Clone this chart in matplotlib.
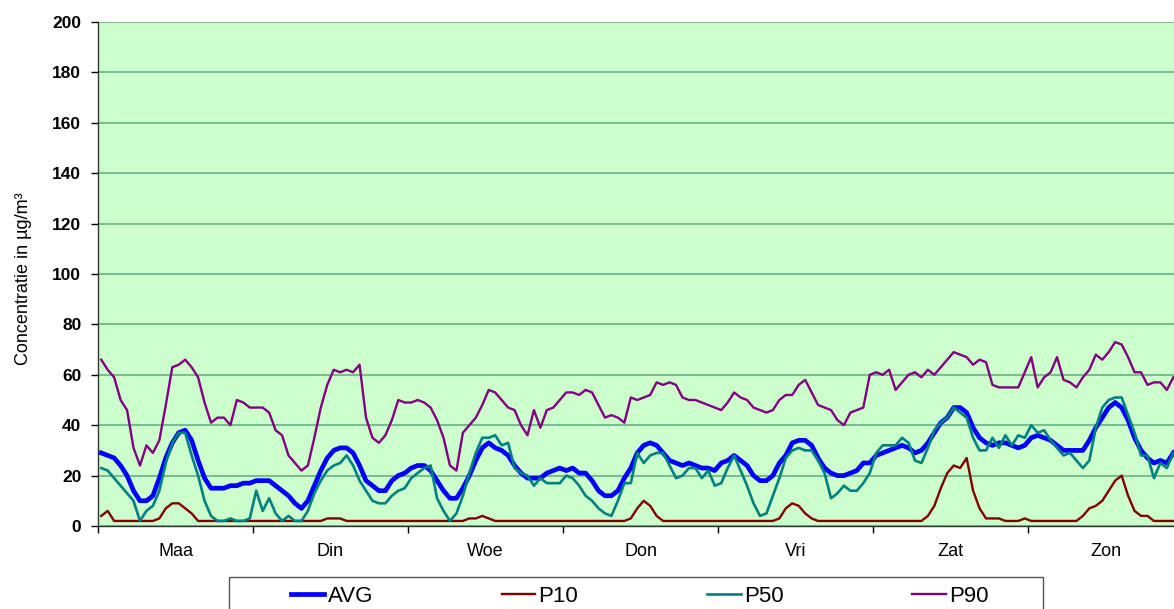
"""
plot.py — Hourly concentration profile per weekday (AVG / P10 / P50 / P90).

Writes out.png (1174 x 609 px).
"""

import matplotlib

matplotlib.use("Agg")
import matplotlib.pyplot as plt
import numpy as np
from matplotlib.patches import Rectangle

plt.rcParams["font.family"] = ["Liberation Sans", "DejaVu Sans"]

# ---------------------------------------------------------------------------
# Data (one row per day, 24 hourly values; last hour of Zon falls off the chart)
# ---------------------------------------------------------------------------

days = ["Maa", "Din", "Woe", "Don", "Vri", "Zat", "Zon"]

avg = [
    29, 28, 27, 24, 20, 14, 10, 10, 12, 19, 27, 33, 37, 38, 34, 26, 19, 15, 15, 15, 16, 16, 17, 17,
    18, 18, 18, 16, 14, 12, 9, 7, 10, 16, 22, 27, 30, 31, 31, 29, 24, 18, 16, 14, 14, 18, 20, 21,
    23, 24, 24, 22, 18, 14, 11, 11, 15, 20, 26, 31, 33, 31, 30, 28, 24, 21, 19, 19, 19, 21, 22, 23,
    22, 23, 21, 21, 18, 14, 12, 12, 14, 19, 23, 29, 32, 33, 32, 29, 26, 25, 24, 25, 24, 23, 23, 22,
    25, 26, 28, 26, 24, 20, 18, 18, 20, 25, 28, 33, 34, 34, 32, 27, 23, 21, 20, 20, 21, 22, 25, 25,
    28, 29, 30, 31, 32, 31, 29, 30, 33, 37, 41, 43, 47, 47, 45, 39, 35, 33, 32, 33, 33, 32, 31, 32,
    35, 36, 35, 34, 32, 30, 30, 30, 30, 34, 39, 43, 47, 49, 47, 42, 35, 30, 27, 25, 26, 25, 29,
]

p10 = [
    4, 6, 2, 2, 2, 2, 2, 2, 2, 3, 7, 9, 9, 7, 5, 2, 2, 2, 2, 2, 2, 2, 2, 2,
    2, 2, 2, 2, 2, 2, 2, 2, 2, 2, 2, 3, 3, 3, 2, 2, 2, 2, 2, 2, 2, 2, 2, 2,
    2, 2, 2, 2, 2, 2, 2, 2, 2, 3, 3, 4, 3, 2, 2, 2, 2, 2, 2, 2, 2, 2, 2, 2,
    2, 2, 2, 2, 2, 2, 2, 2, 2, 2, 3, 7, 10, 8, 4, 2, 2, 2, 2, 2, 2, 2, 2, 2,
    2, 2, 2, 2, 2, 2, 2, 2, 2, 3, 7, 9, 8, 5, 3, 2, 2, 2, 2, 2, 2, 2, 2, 2,
    2, 2, 2, 2, 2, 2, 2, 2, 4, 8, 15, 21, 24, 23, 27, 14, 7, 3, 3, 3, 2, 2, 2, 3,
    2, 2, 2, 2, 2, 2, 2, 2, 4, 7, 8, 10, 14, 18, 20, 12, 6, 4, 4, 2, 2, 2, 2,
]

p50 = [
    23, 22, 19, 16, 13, 10, 2, 6, 8, 14, 25, 33, 37, 37, 28, 20, 10, 4, 2, 2, 3, 2, 2, 3,
    14, 6, 11, 5, 2, 4, 2, 2, 6, 13, 18, 22, 24, 25, 28, 24, 18, 14, 10, 9, 9, 12, 14, 15,
    19, 21, 23, 24, 11, 6, 2, 5, 12, 21, 29, 35, 35, 36, 32, 33, 23, 21, 20, 16, 19, 17, 17, 17,
    20, 19, 16, 12, 10, 7, 5, 4, 10, 17, 17, 29, 25, 28, 29, 29, 24, 19, 20, 23, 23, 19, 22, 16,
    17, 23, 28, 22, 16, 9, 4, 5, 12, 19, 27, 30, 31, 30, 30, 26, 21, 11, 13, 16, 14, 14, 17, 21,
    29, 32, 32, 32, 35, 33, 26, 25, 31, 38, 41, 43, 47, 45, 43, 35, 30, 30, 35, 31, 36, 32, 36, 35,
    40, 37, 38, 34, 31, 28, 29, 26, 23, 26, 39, 47, 50, 51, 51, 44, 37, 28, 28, 19, 25, 23, 29,
]

p90 = [
    66, 62, 59, 50, 46, 31, 24, 32, 29, 34, 48, 63, 64, 66, 63, 59, 49, 41, 43, 43, 40, 50, 49, 47,
    47, 47, 45, 38, 36, 28, 25, 22, 24, 35, 47, 56, 62, 61, 62, 61, 64, 43, 35, 33, 36, 42, 50, 49,
    49, 50, 49, 47, 42, 35, 24, 22, 37, 40, 43, 48, 54, 53, 50, 47, 46, 40, 36, 46, 39, 46, 47, 50,
    53, 53, 52, 54, 53, 48, 43, 44, 43, 41, 51, 50, 51, 52, 57, 56, 57, 56, 51, 50, 50, 49, 48, 47,
    46, 49, 53, 51, 50, 47, 46, 45, 46, 50, 52, 52, 56, 58, 53, 48, 47, 46, 42, 40, 45, 46, 47, 60,
    61, 60, 62, 54, 57, 60, 61, 59, 62, 60, 63, 66, 69, 68, 67, 64, 66, 65, 56, 55, 55, 55, 55, 61,
    67, 55, 59, 61, 67, 58, 57, 55, 59, 62, 68, 66, 69, 73, 72, 67, 61, 61, 56, 57, 57, 54, 59,
]

series = [
    ("AVG", avg, "#0000FF", 3.4),
    ("P10", p10, "#800000", 1.7),
    ("P50", p50, "#008080", 1.9),
    ("P90", p90, "#800080", 1.7),
]

# ---------------------------------------------------------------------------
# Figure
# ---------------------------------------------------------------------------

W, H = 1174, 609
fig = plt.figure(figsize=(W / 100, H / 100), dpi=100)
# plot area runs past the right edge of the picture, as in the original
ax = fig.add_axes([98 / W, 1 - 526 / H, 1085 / W, 504 / H])
ax.set_facecolor("#CCFFCC")

hours_per_day = 24
lines = []
for name, vals, color, lw in series:
    x = np.arange(len(vals)) + 0.5
    (ln,) = ax.plot(x, vals, color=color, linewidth=lw, label=name,
                    solid_joinstyle="round", zorder=3)
    lines.append(ln)

ax.set_xlim(0, hours_per_day * len(days))
ax.set_ylim(0, 200)

# y axis
ax.set_yticks(np.arange(0, 201, 20))
ax.yaxis.grid(True, color="#6FB98A", linewidth=1.3)
ax.set_axisbelow(True)
ax.tick_params(axis="y", direction="out", length=5, width=1, pad=7,
               labelsize=12.5)
for lbl in ax.get_yticklabels():
    lbl.set_fontweight("bold")
ax.set_ylabel("Concentratie in µg/m³", fontsize=13)
ax.yaxis.set_label_coords(-0.0605, 0.49)

# x axis: ticks at day boundaries, day names centred in between
ax.set_xticks(np.arange(0, hours_per_day * len(days) + 1, hours_per_day))
ax.set_xticklabels([])
ax.set_xticks(np.arange(len(days)) * hours_per_day + hours_per_day / 2, minor=True)
ax.set_xticklabels(days, minor=True, fontsize=13)
ax.tick_params(axis="x", which="major", direction="out", length=5, width=1)
ax.tick_params(axis="x", which="minor", length=0, pad=12.5)

for side in ("top", "right"):
    ax.spines[side].set_visible(False)
for side in ("left", "bottom"):
    ax.spines[side].set_color("#333333")
    ax.spines[side].set_linewidth(1)

# legend: box drawn separately, entries in one row
fig.patches.append(Rectangle((229 / W, -0.05), 814 / W, 0.05 + 1 - 577 / H,
                             transform=fig.transFigure, facecolor="white",
                             edgecolor="#555555", linewidth=1))
fig.legend(handles=lines, loc="center left", bbox_to_anchor=(291 / W, 1 - 596 / H),
           ncol=4, frameon=False, fontsize=16, handlelength=1.5,
           handletextpad=0.15, columnspacing=5.8, borderpad=0, borderaxespad=0)

fig.savefig("out.png", dpi=100)
plt.close(fig)
